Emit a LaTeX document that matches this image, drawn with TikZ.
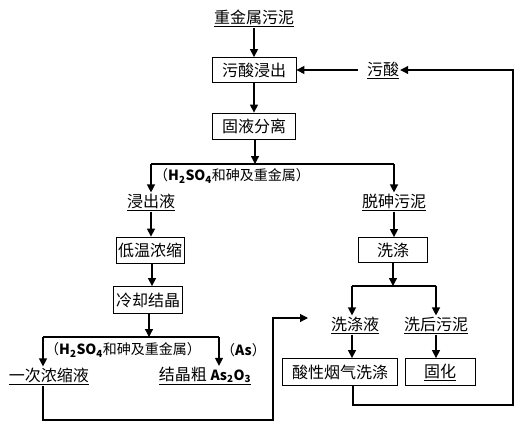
\documentclass[tikz,border=0pt]{standalone}
\usepackage{fontspec}
\setmainfont{Noto Sans CJK SC}
\usetikzlibrary{arrows.meta}
\usetikzlibrary{positioning}

\tikzset{
  proc/.style={draw, line width=0.8pt, inner sep=0pt, font=\fontsize{16}{16}\selectfont},
  stuff/.style={inner sep=1pt, font=\fontsize{16}{16}\selectfont},
  note/.style={inner sep=0pt, font=\fontsize{14}{14}\selectfont},
  flow/.style={line width=1.3pt, -{Triangle[length=8pt,width=8pt]}},
  pipe/.style={line width=1.1pt},
}
\newcommand{\acidmix}{（\textbf{H\textsubscript{2}SO\textsubscript{4}}和砷及重金属）}

\begin{document}
\begin{tikzpicture}[x=1pt,y=-1pt]
    \useasboundingbox (0,0) rectangle (522,429);

    % materials
    \node[stuff] (sludge) at (254,18) {\underline{重金属污泥}};
    \node[stuff] (acid) at (383,70) {\underline{污酸}};
    \node[stuff] (lq) at (151,202) {\underline{浸出液}};
    \node[stuff] (das) at (394,202) {\underline{脱砷污泥}};
    \node[stuff] (once) at (49,376) {\underline{一次浓缩液}};
    \node[stuff] (crude) at (205,376) {\underline{结晶粗 \textbf{\fontsize{14}{14}\selectfont As\textsubscript{2}O\textsubscript{3}}}};
    \node[stuff] (wl) at (355,325) {\underline{洗涤液}};
    \node[stuff] (ws) at (436,325) {\underline{洗后污泥}};

    % process boxes
    \node[proc, minimum width=84pt, minimum height=25pt] (leach) at (254,70) {污酸浸出};
    \node[proc, minimum width=83pt, minimum height=26pt] (sep) at (254,126) {固液分离};
    \node[proc, minimum width=68pt, minimum height=26pt] (conc) at (150,250) {低温浓缩};
    \node[proc, minimum width=69pt, minimum height=25pt] (wash) at (393,250) {洗涤};
    \node[proc, minimum width=69pt, minimum height=27pt] (cryst) at (148,300) {冷却结晶};
    \node[proc, minimum width=115pt, minimum height=27pt] (acidw) at (340,372) {酸性烟气洗涤};
    \node[proc, minimum width=70pt, minimum height=27pt] (solid) at (440,372) {\underline{固化}};

    % notes
    \node[note, anchor=west] (n1) at (154,176) {\acidmix};
    \node[note, anchor=west] (n2) at (45,350) {\acidmix};
    \node[note, anchor=west] (n3) at (221,350) {（\textbf{As}）};

    % junctions
    \coordinate (j1) at (255,164);
    \coordinate (j2) at (149,337);
    \coordinate (j3) at (393,286);
    \coordinate (back) at (308,318);

    \draw[flow] (sludge.south -| leach) -- (leach.north);
    \draw[flow] (leach) -- (sep);
    \draw[flow] (sep.south -| j1) -- (j1);
    \draw[pipe] (j1 -| lq) -- (j1 -| das);
    \foreach \t in {lq,das}{
        \draw[flow] (j1 -| \t) -- (\t.north);
    }
    \draw[flow] (lq) -- (lq |- conc.north);
    \draw[flow] (das) -- (das |- wash.north);
    \draw[flow] (conc.south -| 152,0) -- (cryst.north -| 152,0);

    \draw[flow] (cryst.south -| j2) -- (j2);
    \draw[pipe] (43,337) -- (219,337);
    \draw[flow] (43,337) -- ([xshift=-6pt]once.north);
    \draw[flow] (219,337) -- ([xshift=14pt]crude.north);

    \draw[flow] (wash.south -| j3) -- (j3);
    \draw[pipe] (j3 -| 352,0) -- (j3 -| ws);
    \draw[flow] (j3 -| 352,0) -- (wl.north -| 352,0);
    \draw[flow] (j3 -| ws) -- (ws.north);
    \draw[flow] (wl.south -| 352,0) -- (acidw.north -| 352,0);
    \draw[flow] (ws) -- (ws |- solid.north);

    % recycle lines
    \draw[pipe, -{Triangle[length=8pt,width=8pt]}] ([xshift=-6pt]once.south) |- (273,420) |- (back);
    \draw[pipe, -{Triangle[length=8pt,width=8pt]}] (acidw.south -| 353,0) |- (513,405) |- (acid.east);
    \draw[pipe, -{Triangle[length=8pt,width=8pt]}] ([xshift=-8pt]acid.west) -- (leach.east);
\end{tikzpicture}
\end{document}
